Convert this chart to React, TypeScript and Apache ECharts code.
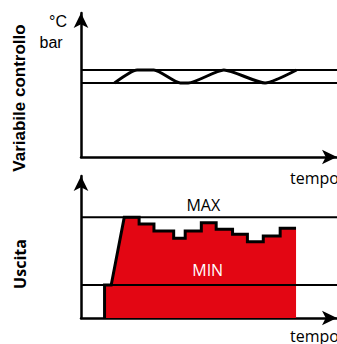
import React, { useEffect, useRef } from "react";
import * as echarts from "echarts";

// Top chart: controlled variable (°C / bar) oscillating between two band limits
const bandUpper = 60.4;
const bandLower = 51.4;
const waveTime = [13.1, 21.9, 28.5, 38.8, 41.9, 55.8, 71.9, 84.2];
const waveLevel = [51.4, 60.4, 60.4, 51.4, 51.4, 60.4, 51.4, 60.4];

// Bottom chart: output level between MIN and MAX
const outMax = 70.9;
const outMin = 23.2;
const outTime = [9.2, 9.2, 11.8, 16.9, 22.7, 22.7, 28.5, 28.5, 36.2, 36.2, 40.7, 40.7, 47.0, 47.0, 52.8, 52.8, 59.2, 59.2, 65.0, 65.0, 71.2, 71.2, 77.8, 77.8, 84.0, 84.0];
const outLevel = [0, 23.2, 23.2, 70.9, 70.9, 66.2, 66.2, 61.3, 61.3, 56.1, 56.1, 61.3, 61.3, 67.1, 67.1, 62.5, 62.5, 58.9, 58.9, 53.7, 53.7, 57.7, 57.7, 63.2, 63.2, 0];

const timeRange = [0, 100];

const RED = "#e30613";

export default function App() {
  const ref = useRef<HTMLDivElement>(null);
  useEffect(() => {
    if (!ref.current) return;
    const chart = echarts.init(ref.current, null, { renderer: "svg" });
    const axisLine = {
      show: true,
      symbol: ["none", "arrow"],
      symbolSize: [11, 15],
      lineStyle: { color: "#000", width: 2.5 },
    };
    const baseAxis = {
      type: "value" as const,
      axisLine,
      axisTick: { show: false },
      axisLabel: { show: false },
      splitLine: { show: false },
    };
    const wavePts = waveTime.map((t, i) => [t, waveLevel[i]]);
    const outPts = outTime.map((t, i) => [t, outLevel[i]]);
    const outlinePts = outPts.slice(0, outPts.length - 1);
    chart.setOption({
      animation: false,
      grid: [
        { left: 81, right: -4, top: 13, bottom: 187 },
        { left: 81, right: -4, top: 176, bottom: 26 },
      ],
      xAxis: [
        { ...baseAxis, gridIndex: 0, min: timeRange[0], max: timeRange[1] },
        { ...baseAxis, gridIndex: 1, min: timeRange[0], max: timeRange[1] },
      ],
      yAxis: [
        { ...baseAxis, gridIndex: 0, min: 0, max: 100 },
        { ...baseAxis, gridIndex: 1, min: 0, max: 100 },
      ],
      series: [
        {
          type: "line", xAxisIndex: 0, yAxisIndex: 0, symbol: "none",
          data: [[timeRange[0], bandUpper], [timeRange[1], bandUpper]],
          lineStyle: { color: "#000", width: 2 }, z: 3,
        },
        {
          type: "line", xAxisIndex: 0, yAxisIndex: 0, symbol: "none",
          data: [[timeRange[0], bandLower], [timeRange[1], bandLower]],
          lineStyle: { color: "#000", width: 2 }, z: 3,
        },
        {
          type: "line", xAxisIndex: 0, yAxisIndex: 0, symbol: "none",
          smooth: 0.2,
          data: wavePts,
          lineStyle: { color: "#000", width: 3 }, z: 4,
        },
        {
          type: "line", xAxisIndex: 1, yAxisIndex: 1, symbol: "none",
          data: outPts,
          lineStyle: { width: 0, opacity: 0 },
          areaStyle: { color: RED, opacity: 1 }, z: 2,
        },
        {
          type: "line", xAxisIndex: 1, yAxisIndex: 1, symbol: "none",
          data: outlinePts,
          lineStyle: { color: "#000", width: 3, join: "miter" }, z: 4,
        },
        {
          type: "line", xAxisIndex: 1, yAxisIndex: 1, symbol: "none",
          data: [[timeRange[0], outMax], [timeRange[1], outMax]],
          lineStyle: { color: "#000", width: 2 }, z: 3,
        },
        {
          type: "line", xAxisIndex: 1, yAxisIndex: 1, symbol: "none",
          data: [[timeRange[0], outMin], [timeRange[1], outMin]],
          lineStyle: { color: "#000", width: 2 }, z: 3,
        },
      ],
      graphic: [
        { type: "text", x: 67, y: 21, style: { text: "°C", font: "16px 'Liberation Sans'", fill: "#000", align: "right", verticalAlign: "middle" } },
        { type: "text", x: 39.5, y: 42.5, style: { text: "bar", font: "16px 'Liberation Sans'", fill: "#000", align: "left", verticalAlign: "middle" } },
        { type: "text", x: 19, y: 98, rotation: Math.PI / 2, style: { text: "Variabile controllo", font: "bold 17px 'Liberation Sans'", fill: "#000", align: "center", verticalAlign: "middle" } },
        { type: "text", x: 19.5, y: 264, rotation: Math.PI / 2, style: { text: "Uscita", font: "bold 16px 'Open Sans'", fill: "#000", align: "center", verticalAlign: "middle" } },
        { type: "text", x: 290, y: 178, style: { text: "tempo", font: "16px 'Open Sans'", fill: "#000", align: "left", verticalAlign: "middle" } },
        { type: "text", x: 290, y: 336, style: { text: "tempo", font: "16px 'Open Sans'", fill: "#000", align: "left", verticalAlign: "middle" } },
        { type: "text", x: 203.3, y: 205, style: { text: "MAX", font: "16px 'Open Sans'", fill: "#000", align: "center", verticalAlign: "middle" } },
        { type: "text", x: 207.7, y: 270, z: 10, style: { text: "MIN", font: "16px 'Open Sans'", fill: "#fff", align: "center", verticalAlign: "middle" } },
      ],
    });
    return () => chart.dispose();
  }, []);
  return <div ref={ref} style={{ position: "absolute", left: 0, top: 0, width: 337, height: 344 }} />;
}
